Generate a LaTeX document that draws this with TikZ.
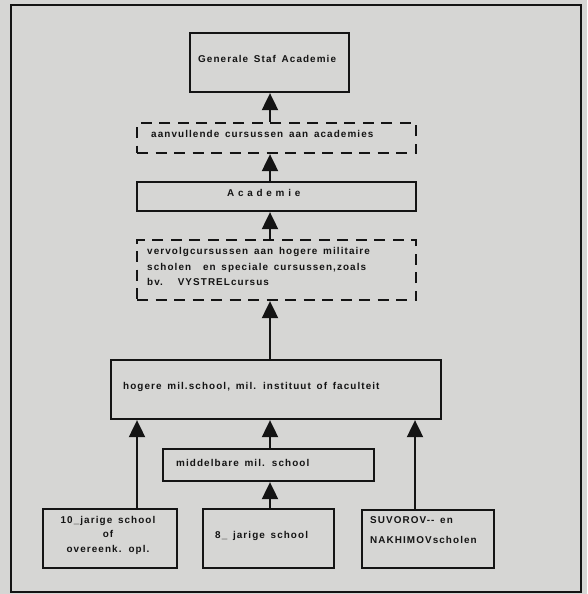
\documentclass[tikz,border=0pt]{standalone}
\usepackage{fontspec}
\newfontfamily\lab[LetterSpace=11,WordSpace=1.5]{Liberation Sans}
\usetikzlibrary{arrows.meta}
\definecolor{paper}{RGB}{214,214,212}
\definecolor{ink}{RGB}{20,20,20}
\tikzset{
  box/.style={draw=ink, line width=2.3pt, inner sep=0pt, fill=none},
  dbox/.style={box, dash pattern=on 11pt off 7.5pt},
  txt/.style={inner sep=0pt, text=ink, font=\lab\bfseries\fontsize{9.9}{15.5}\selectfont, align=left},
  arr/.style={draw=ink, line width=2pt, -{Triangle[length=17pt,width=16pt]}},
}
\begin{document}
\begin{tikzpicture}[x=1pt,y=-1pt]
\fill[paper] (0,0) rectangle (587,594);
\useasboundingbox (0,0) rectangle (587,594);
\draw[ink, line width=2.4pt] (11,5) rectangle (581,592);
% boxes
\node[box, minimum width=159pt, minimum height=59pt] (gsa) at (269.5,62.5) {};
\node[dbox, minimum width=279pt, minimum height=30pt] (aan) at (276.5,138) {};
\node[box, minimum width=279pt, minimum height=29pt] (acad) at (276.5,196.5) {};
\node[dbox, minimum width=279pt, minimum height=60pt] (verv) at (276.5,270) {};
\node[box, minimum width=330pt, minimum height=59pt] (hog) at (276,389.5) {};
\node[box, minimum width=211pt, minimum height=32pt] (mid) at (268.5,465) {};
\node[box, minimum width=134pt, minimum height=59pt] (ten) at (110,538.5) {};
\node[box, minimum width=131pt, minimum height=59pt] (eight) at (268.5,538.5) {};
\node[box, minimum width=132pt, minimum height=58pt] (suv) at (428,539) {};
% texts
\node[txt, anchor=west] (tgsa) at (198,59) {Generale Staf Academie};
\node[txt, anchor=west] (taan) at (151,134) {aanvullende cursussen aan academies};
\node[txt, anchor=west] (tacad) at (227,193) {\addfontfeatures{LetterSpace=38}Academie};
\node[txt, anchor=north west] (tverv) at (147,247.5) {vervolgcursussen aan hogere militaire\\scholen\hspace{1.2em}en speciale cursussen,zoals\\bv.\hspace{1.5em}VYSTRELcursus};
\node[txt, anchor=west] (thog) at (123,387) {hogere mil.school, mil. instituut of faculteit};
\node[txt, anchor=west] (tmid) at (176,463) {middelbare mil. school};
\node[txt, anchor=north, align=center, font=\lab\bfseries\fontsize{9.9}{14.5}\selectfont] (tten) at (108,516) {10\_jarige school\\of\\overeenk. opl.};
\node[txt, anchor=west] (teight) at (215,536) {8\_ jarige school};
\node[txt, anchor=north west, font=\lab\bfseries\fontsize{9.9}{20}\selectfont] (tsuv) at (370,516.5) {SUVOROV-- en\\NAKHIMOVscholen};
% connectors
\coordinate (sp) at (270,0);
\coordinate (lx) at (137,0);
\coordinate (rx) at (415,0);
\draw[arr] (aan.north -| sp) -- (gsa.south -| sp);
\draw[arr] (acad.north -| sp) -- (aan.south -| sp);
\draw[arr] (verv.north -| sp) -- (acad.south -| sp);
\draw[arr] (hog.north -| sp) -- (verv.south -| sp);
\draw[arr] (mid.north -| sp) -- (hog.south -| sp);
\draw[arr] (eight.north -| sp) -- (mid.south -| sp);
\draw[arr] (ten.north -| lx) -- (hog.south -| lx);
\draw[arr] (suv.north -| rx) -- (hog.south -| rx);
\end{tikzpicture}
\end{document}
